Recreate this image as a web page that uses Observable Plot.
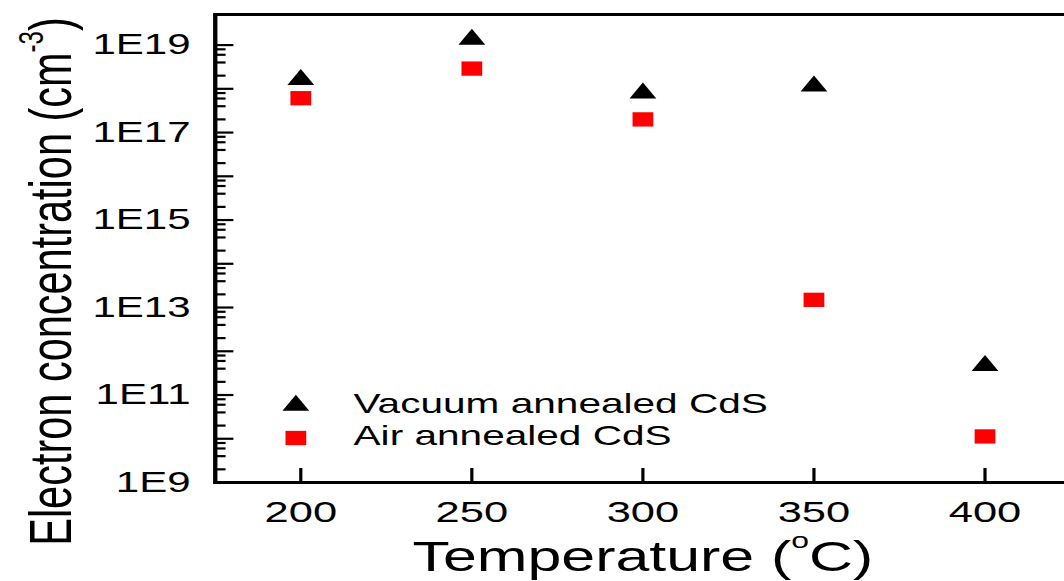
<!DOCTYPE html>
<html><head><meta charset="utf-8">
<script src="https://cdn.jsdelivr.net/npm/d3@7"></script>
<script src="https://cdn.jsdelivr.net/npm/@observablehq/plot@0.6"></script>
<style>
html,body{margin:0;padding:0;background:#fff;overflow:hidden}
#chart{width:1064px;height:581px;overflow:hidden;position:relative;background:#fff}
#chart svg{transform-origin:0 0;transform:scaleX(1.4496);display:block;max-width:none}
</style></head><body><div id="chart"></div>
<script>
// ---- data ----
const temperatures = [200, 250, 300, 350, 400];
const vacuumValues = [1.62e18, 1.34e19, 8.0e17, 1.15e18, 4.7e11];
const airValues    = [6.1e17, 2.9e18, 2.0e17, 1.5e13, 1.13e10];
const seriesNames  = ["Vacuum annealed CdS", "Air annealed CdS"];
const xTicks       = [200, 250, 300, 350, 400];
const yLabelTicks  = [1e9, 1e11, 1e13, 1e15, 1e17, 1e19];
const yTickLabels  = ["1E9", "1E11", "1E13", "1E15", "1E17", "1E19"];
const yDecadeTicks = [1e9, 1e10, 1e11, 1e12, 1e13, 1e14, 1e15, 1e16, 1e17, 1e18, 1e19];
const yMinorMultipliers = [2, 4, 6, 8];
const xTitleParts = ["Temperature (", "o", "C)"];
const yTitleParts = ["Electron concentration (cm", "-3", ")"];

const vacuum = temperatures.map((t, i) => ({t, v: vacuumValues[i], s: seriesNames[0]}));
const air    = temperatures.map((t, i) => ({t, v: airValues[i], s: seriesNames[1]}));
const yMinorTicks = yDecadeTicks.slice(0, -1).flatMap(d => yMinorMultipliers.map(m => d * m));
const labelMap = new Map(yLabelTicks.map((v, i) => [v, yTickLabels[i]]));
const xTitle = xTitleParts.join("");
const yTitle = yTitleParts.join("");

const font = "'Liberation Sans', Arial, Helvetica, sans-serif";

const svg = Plot.plot({
  width: 734, height: 581,
  marginLeft: 148, marginRight: -4, marginTop: 14, marginBottom: 99,
  style: {fontFamily: font, background: "white", color: "black", overflow: "hidden"},
  x: {domain: [175, 425]},
  y: {type: "log", domain: [1e9, 5e19]},
  marks: [
    Plot.frame({stroke: "black", strokeWidth: 3}),
    Plot.axisX({ticks: xTicks, anchor: "bottom", tickSize: -14, strokeWidth: 2.2, tickFormat: () => "", label: null}),
    Plot.axisX({ticks: xTicks, anchor: "bottom", tickSize: 0, tickPadding: 18, fontSize: 30, tickFormat: d => String(d), label: null}),
    Plot.axisY({ticks: yDecadeTicks, anchor: "left", tickSize: -13, strokeWidth: 2.2, tickFormat: () => "", label: null}),
    Plot.axisY({ticks: yMinorTicks, anchor: "left", tickSize: -7.6, strokeWidth: 2.2, tickFormat: () => "", label: null}),
    Plot.axisY({ticks: yLabelTicks, anchor: "left", tickSize: 0, tickPadding: 17, fontSize: 29, tickFormat: d => labelMap.get(d), label: null}),
    Plot.dot(vacuum, {x: "t", y: "v", symbol: "triangle", r: 6.86, fill: "black", stroke: "none"}),
    Plot.dot(air, {x: "t", y: "v", symbol: "square", r: 8.07, fill: "#ff0000", stroke: "none"}),
    // legend
    Plot.dot([seriesNames[0]], {frameAnchor: "bottom-left", dx: 55.6, dy: -77, symbol: "triangle", r: 6.86, fill: "black", stroke: "none"}),
    Plot.dot([seriesNames[1]], {frameAnchor: "bottom-left", dx: 55.6, dy: -44.5, symbol: "square", r: 8.07, fill: "#ff0000", stroke: "none"}),
    Plot.text([seriesNames[0]], {frameAnchor: "bottom-left", dx: 95.4, dy: -78, text: d => d, textAnchor: "start", lineAnchor: "middle", fontSize: 28, fill: "black"}),
    Plot.text([seriesNames[1]], {frameAnchor: "bottom-left", dx: 95.4, dy: -46, text: d => d, textAnchor: "start", lineAnchor: "middle", fontSize: 28, fill: "black"}),
    // axis titles
    Plot.text([xTitle], {frameAnchor: "bottom", dy: 75, text: d => d, textAnchor: "middle", lineAnchor: "middle", fontSize: 42, fill: "black"}),
    Plot.text([yTitle], {frameAnchor: "left", dx: -112.8, dy: 33, rotate: -90, text: d => d, textAnchor: "middle", lineAnchor: "middle", fontSize: 41.5, fill: "black"})
  ]
});
document.getElementById("chart").appendChild(svg);

// superscripts in axis titles
function superscript(full, parts, supSize, shift) {
  d3.select(svg).selectAll("text").filter(function () { return this.textContent === full; })
    .each(function () {
      const t = d3.select(this);
      t.text(null);
      t.append("tspan").text(parts[0]);
      t.append("tspan").attr("font-size", supSize).attr("dy", -shift).text(parts[1]);
      t.append("tspan").attr("dy", shift).text(parts[2]);
    });
}
superscript(xTitle, xTitleParts, 22, 23);
superscript(yTitle, yTitleParts, 24, 19);
</script>
</body></html>
